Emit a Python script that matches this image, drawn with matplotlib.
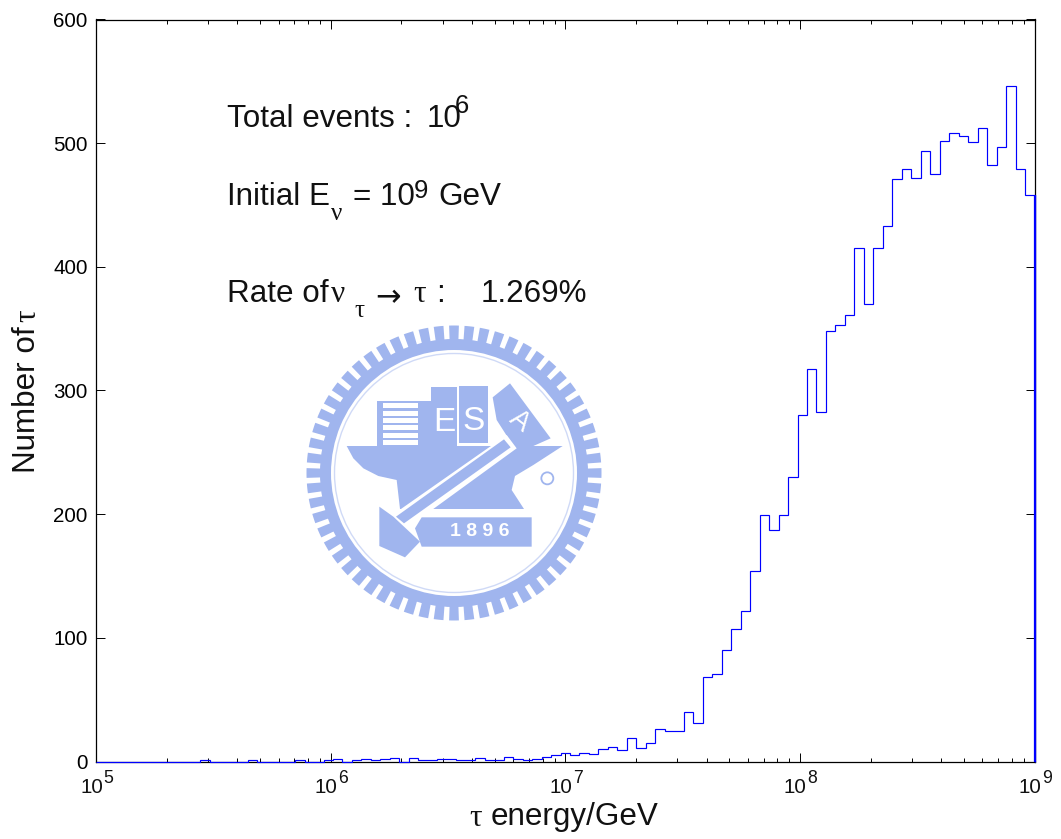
import numpy as np
import matplotlib
matplotlib.use('Agg')
import matplotlib.pyplot as plt
from matplotlib.patches import Polygon, Circle, Wedge
from matplotlib.ticker import LogLocator, NullFormatter

# histogram, 99 log bins from 1e5 to 1e9
counts = [0, 0, 0, 0, 0, 0, 0, 0, 0, 0, 0, 1, 0, 0, 0, 0, 1, 0, 0, 0, 0, 1, 0, 0,
          1, 2, 0, 1, 2, 1, 2, 3, 0, 3, 1, 1, 2, 2, 1, 1, 3, 1, 1, 4, 2, 1, 2, 4,
          5, 7, 5, 7, 6, 10, 12, 9, 19, 11, 15, 26, 25, 25, 40, 31, 68, 71, 90,
          107, 122, 154, 199, 187, 199, 230, 280, 317, 283, 348, 353, 361, 415,
          370, 415, 433, 471, 479, 472, 494, 475, 502, 508, 506, 501, 512, 482,
          497, 546, 479, 458]
yticks = [0, 100, 200, 300, 400, 500, 600]
xexps = [5, 6, 7, 8, 9]
xlim = (1e5, 1e9)
ylim = (0, 600)
nbins = len(counts)

W, H = 1061, 839
BLUE = '#0000ff'
LOGO = '#a0b5ee'
FS = 22.6

plt.rcParams['font.family'] = ['Liberation Sans', 'DejaVu Sans']

fig = plt.figure(figsize=(W / 100, H / 100), dpi=100)
ax = fig.add_axes([96 / W, 1 - 761.5 / H, (1034.5 - 96) / W, (761.5 - 19.5) / H])
ax.patch.set_alpha(0)

edges = np.logspace(5, 9, nbins + 1)
ax.stairs(counts, edges, baseline=0, color=BLUE, linewidth=0.85, clip_on=False, zorder=4)
ax.vlines(edges[-1], 0, counts[-1], color=BLUE, linewidth=1.6, clip_on=False, zorder=4)

ax.set_xscale('log')
ax.set_xlim(xlim)
ax.set_ylim(ylim)
ax.set_yticks(yticks)
ax.xaxis.set_major_locator(LogLocator(base=10, numticks=6))
ax.xaxis.set_major_formatter(NullFormatter())
ax.xaxis.set_minor_locator(LogLocator(base=10, subs=np.arange(2, 10), numticks=6))
ax.xaxis.set_minor_formatter(NullFormatter())
ax.tick_params(which='major', direction='in', top=True, right=True, length=6.5,
               width=0.7, labelsize=14.8, pad=6)
ax.tick_params(which='minor', direction='in', top=True, right=True, length=3.2, width=0.7)
for s in ax.spines.values():
    s.set_linewidth(0.9)

# MATLAB style decade labels, the exponent is nearly as big as the base
for e in xexps:
    ax.annotate('10', xy=(10.0 ** e, 0), xycoords=('data', 'axes fraction'), xytext=(5, -22.7),
                textcoords='offset points', ha='right', va='baseline', fontsize=14.8, color='#111111')
    ax.annotate(str(e), xy=(10.0 ** e, 0), xycoords=('data', 'axes fraction'), xytext=(5.6, -15.5),
                textcoords='offset points', ha='left', va='baseline', fontsize=12.7, color='#111111')


def txt(x, y, s, size=FS, family='Liberation Sans', **kw):
    return fig.text(x / W, 1 - y / H, s, fontsize=size, family=[family, 'DejaVu Sans'],
                    va='baseline', color='#111111', zorder=6, **kw)


SERIF = 'Liberation Serif'

# axis labels are split so tau can use the serif face
txt(469, 825.5, '\u03c4', family=SERIF)
txt(491, 825.5, 'energy/GeV')
txt(35, 473, 'Number of', rotation=90, rotation_mode='anchor')
txt(35, 322, '\u03c4', family=SERIF, rotation=90, rotation_mode='anchor')

# annotations
txt(227, 127, 'Total events :')
txt(426.5, 127, '10')
txt(455, 113, '6', size=18.5)
txt(227, 205, 'Initial E')
txt(331, 220, '\u03bd', size=18, family=SERIF)
txt(353, 205, '= 10')
txt(414, 198, '9', size=18.5)
txt(438, 205, 'GeV')
txt(227, 302, 'Rate of')
txt(331, 302, '\u03bd', family=SERIF)
txt(354, 317, '\u03c4', size=18, family=SERIF)
txt(375, 306, '\u2192', family='DejaVu Sans', size=22)
txt(413, 302, '\u03c4', family=SERIF)
txt(436, 302, ':')
txt(481, 302, '1.269%')

# school watermark, drawn in pixel coordinates
lg = fig.add_axes([0, 0, 1, 1], zorder=-1)
lg.set_xlim(0, W)
lg.set_ylim(H, 0)
lg.axis('off')
cx, cy = 454, 473


def zp(pts):
    # positions measured on the 3x crop of the logo
    return [(300 + a / 3, 320 + b / 3) for a, b in pts]


lg.add_patch(Wedge((cx, cy), 134, 0, 360, width=11, color=LOGO, lw=0))
for a in np.arange(0, 360, 6):
    lg.add_patch(Wedge((cx, cy), 147.5, a - 1.9, a + 1.9, width=15, color=LOGO, lw=0))
lg.add_patch(Circle((cx, cy), 119.5, fill=False, ec=LOGO, lw=1, alpha=0.5))

anvil = [(140, 378), (788, 378), (700, 435), (645, 468), (635, 510), (672, 567), (300, 567),
         (290, 480), (235, 468), (190, 445), (160, 415)]
lg.add_patch(Polygon(zp(anvil), color=LOGO, lw=0))
books = [[(232, 243), (392, 243), (392, 378), (232, 378)],
         [(392, 200), (470, 200), (470, 378), (392, 378)],
         [(478, 198), (565, 198), (565, 368), (478, 368)],
         [(578, 232), (630, 190), (752, 355), (700, 378), (640, 378), (590, 300)]]
for b in books:
    lg.add_patch(Polygon(zp(b), color=LOGO, lw=0))
for yy in range(250, 375, 22):
    lg.add_patch(Polygon(zp([(250, yy), (355, yy), (355, yy + 15), (250, yy + 15)]), color='white', lw=0))
lg.add_patch(Polygon(zp([(620, 345), (650, 385), (320, 625), (270, 590)]), color='white', lw=0))
lg.add_patch(Polygon(zp([(612, 358), (632, 382), (312, 610), (288, 590)]), color=LOGO, lw=0))
lg.add_patch(Polygon(zp([(238, 560), (280, 590), (360, 665), (315, 712), (238, 678)]), color=LOGO, lw=0))
lg.add_patch(Polygon(zp([(365, 592), (695, 592), (695, 680), (365, 680), (345, 625)]), color=LOGO, lw=0))
lg.add_patch(Circle((300 + 742 / 3, 320 + 475 / 3), 6, fill=False, ec=LOGO, lw=1.3))
lg.text(300 + 432 / 3, 320 + 308 / 3, 'E', color='white', fontsize=24, ha='center', va='center')
lg.text(300 + 522 / 3, 320 + 305 / 3, 'S', color='white', fontsize=24, ha='center', va='center')
lg.text(300 + 658 / 3, 320 + 305 / 3, 'A', color='white', fontsize=20, ha='center', va='center', rotation=-38)
lg.text(300 + 540 / 3, 320 + 636 / 3, '1 8 9 6', color='white', fontsize=14, fontweight='bold',
        ha='center', va='center')

fig.savefig('out.png', dpi=100)
